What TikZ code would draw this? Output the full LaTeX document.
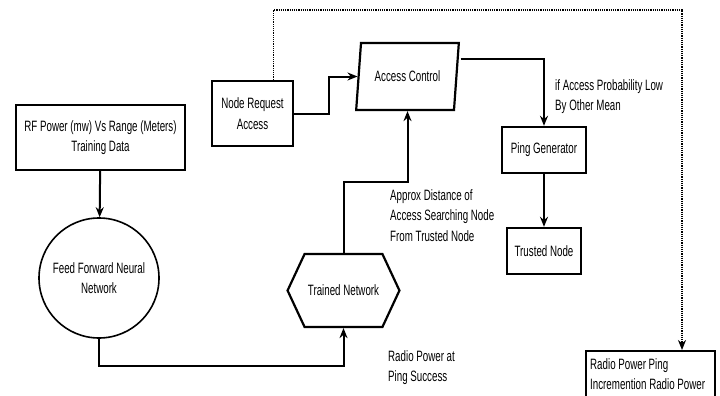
\documentclass[tikz,border=0pt]{standalone}
\usepackage{fontspec}
\setmainfont{Liberation Sans}[FakeStretch=0.65]
\usetikzlibrary{arrows.meta,shapes.geometric,shapes.symbols}
\tikzset{
  box/.style={draw, line width=2.4pt, align=center, inner sep=2pt},
  arr/.style={line width=2pt, -{Stealth[length=10pt,width=8pt]}},
  dotarr/.style={line width=1.8pt, dash pattern=on 1.2pt off 1pt, -{Stealth[length=10pt,width=8pt]}},
  lbl/.style={align=left, anchor=north west, inner sep=0pt},
}
\begin{document}
\begin{tikzpicture}[x=1pt, y=-1pt, every node/.style={font=\fontsize{15}{20.5}\selectfont}]
  \useasboundingbox (0,0) rectangle (720,396);
  \node[box, minimum width=169pt, minimum height=65pt] (rf) at (100.5,137.5) {RF Power (mw) Vs Range (Meters)\\Training Data};
  \node[circle, draw, line width=1.6pt, minimum size=120pt, align=center] (ffnn) at (99,278) {Feed Forward Neural\\Network};
  \node[signal, signal to=west and east, draw, line width=2.2pt, minimum width=109pt, minimum height=73pt, signal pointer angle=130] (trained) at (343.5,290.5) {Trained Network};
  \node[box, minimum width=81pt, minimum height=65pt] (nra) at (252.5,113.5) {Node Request\\Access};
  \node[trapezium, trapezium left angle=78, trapezium right angle=102, trapezium stretches=true, draw, line width=2.2pt, minimum width=103pt, minimum height=67pt] (access) at (407.5,76.5) {Access Control};
  \node[box, minimum width=84pt, minimum height=46pt] (ping) at (544,150) {Ping Generator};
  \node[box, minimum width=74pt, minimum height=46pt] (trusted) at (544,251) {Trusted Node};
  \node[box, align=flush left, anchor=north west, text width=121pt, inner xsep=4pt, minimum height=46pt] (radio) at (585,350) {Radio Power Ping\\Incremention Radio Power};
  % labels
  \node[lbl] (lprob) at (555,79) {if Access Probability Low\\By Other Mean};
  \node[lbl] (ldist) at (390,189) {Approx Distance of\\Access Searching Node\\From Trusted Node};
  \node[lbl] (lradio) at (388,350) {Radio Power at\\Ping Success};
  % connectors
  \draw[arr] (rf) -- (ffnn);
  \draw[arr] (ffnn.south) -- ++(0,27) -| (trained.south);
  \draw[arr] (trained.north) -- ++(0,-71) -| (access.south);
  \draw[arr] (nra.east) -- ++(35,0) |- (access.west);
  \draw[arr] ([yshift=17pt, xshift=3pt]access.east) -| (ping.north);
  \draw[arr] (ping) -- (trusted);
  \coordinate (turn) at (682,10);
  \draw[dotarr] ([xshift=21pt]nra.north) |- (turn) -- (turn |- radio.north);
\end{tikzpicture}
\end{document}
